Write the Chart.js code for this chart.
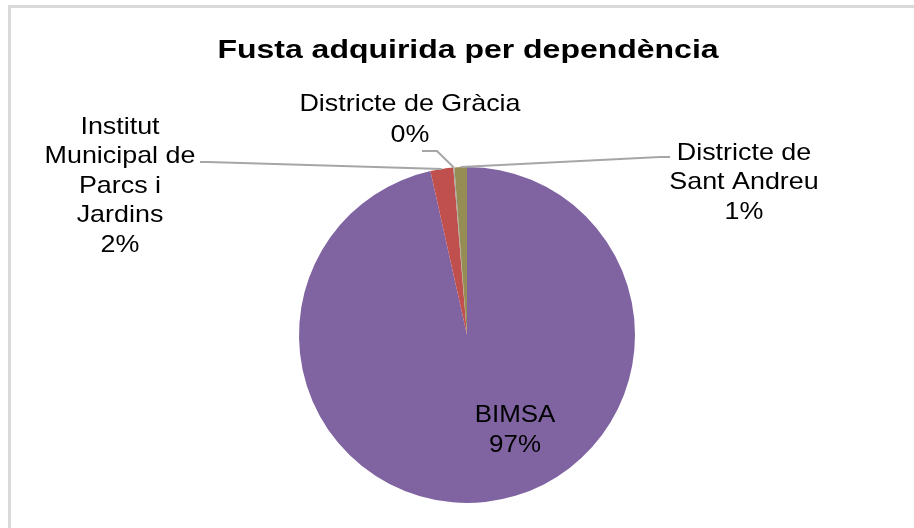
<!DOCTYPE html>
<html>
<head>
<meta charset="utf-8">
<script src="https://cdn.jsdelivr.net/npm/chart.js@4.4.1/dist/chart.umd.min.js"></script>
<style>
  html, body { margin: 0; padding: 0; background: #fff; }
  #wrap { position: relative; width: 914px; height: 528px; }
  #frame { position: absolute; left: 8px; top: 5px; width: 920px; height: 540px;
           border-left: 3px solid #d9d9d9; border-top: 3px solid #d9d9d9; box-sizing: border-box; }
  canvas { position: absolute; left: 0; top: 0; }
</style>
</head>
<body>
<div id="wrap">
  <div id="frame"></div>
  <canvas id="pie" width="914" height="528"></canvas>
</div>
<script>
const title = "Fusta adquirida per dependència";
const categories = ["BIMSA", "Institut Municipal de Parcs i Jardins", "Districte de Gràcia", "Districte de Sant Andreu"];
const shares = [96.6, 2.2, 0.1, 1.2];
const percentLabels = ["97%", "2%", "0%", "1%"];
const colors = ["#8064A2", "#C0504D", "#A5A5A5", "#968D55"];

// how each label is laid out: lines, offset of the text block from pie centre, leader line
const labelLayout = [
    { lines: ["BIMSA"], dx: 48, dy: 80, gap: 30, leader: null },
    { lines: ["Institut", "Municipal de", "Parcs i", "Jardins"], dx: -347, dy: -208, gap: 29.5,
      leader: [[-267, -173], [-259, -173]] },
    { lines: ["Districte de Gràcia"], dx: -57, dy: -231, gap: 31,
      leader: [[-45, -184], [-30, -184]] },
    { lines: ["Districte de", "Sant Andreu"], dx: 277, dy: -182, gap: 29.5,
      leader: [[203, -178], [193, -178]] },
];

const pieLabels = {
    id: "pieLabels",
    afterDraw(chart) {
        const ctx = chart.ctx;
        const arcs = chart.getDatasetMeta(0).data;
        const cx = arcs[0].x, cy = arcs[0].y;

        // title
        ctx.save();
        ctx.fillStyle = "#000";
        ctx.font = "bold 26px 'Liberation Sans', Arial, sans-serif";
        ctx.textAlign = "center";
        ctx.textBaseline = "middle";
        ctx.translate(468, 51);
        ctx.scale(1.23, 1);
        ctx.fillText(title, 0, 0);
        ctx.restore();

        labelLayout.forEach((lab, i) => {
            const arc = arcs[i];
            if (lab.leader) {
                const mid = (arc.startAngle + arc.endAngle) / 2;
                ctx.save();
                ctx.strokeStyle = "#A6A6A6";
                ctx.lineWidth = 2;
                ctx.beginPath();
                ctx.moveTo(cx + lab.leader[0][0], cy + lab.leader[0][1]);
                ctx.lineTo(cx + lab.leader[1][0], cy + lab.leader[1][1]);
                ctx.lineTo(cx + Math.cos(mid) * arc.outerRadius, cy + Math.sin(mid) * arc.outerRadius);
                ctx.stroke();
                ctx.restore();
            }
            const lines = lab.lines.concat([percentLabels[i]]);
            ctx.save();
            ctx.fillStyle = "#000";
            ctx.font = "24px 'Liberation Sans', Arial, sans-serif";
            ctx.textAlign = "center";
            ctx.textBaseline = "middle";
            ctx.translate(cx + lab.dx, cy + lab.dy);
            ctx.scale(i === 0 ? 1.08 : 1.12, 1);
            lines.forEach((t, k) => ctx.fillText(t, 0, k * lab.gap));
            ctx.restore();
        });
    }
};

new Chart(document.getElementById("pie"), {
    type: "pie",
    data: {
        labels: categories,
        datasets: [{
            data: shares,
            backgroundColor: colors,
            borderWidth: 0,
        }]
    },
    options: {
        responsive: false,
        animation: false,
        layout: { padding: { top: 167, bottom: 25, left: 20, right: 0 } },
        plugins: {
            legend: { display: false },
            tooltip: { enabled: false },
        }
    },
    plugins: [pieLabels]
});
</script>
</body>
</html>
